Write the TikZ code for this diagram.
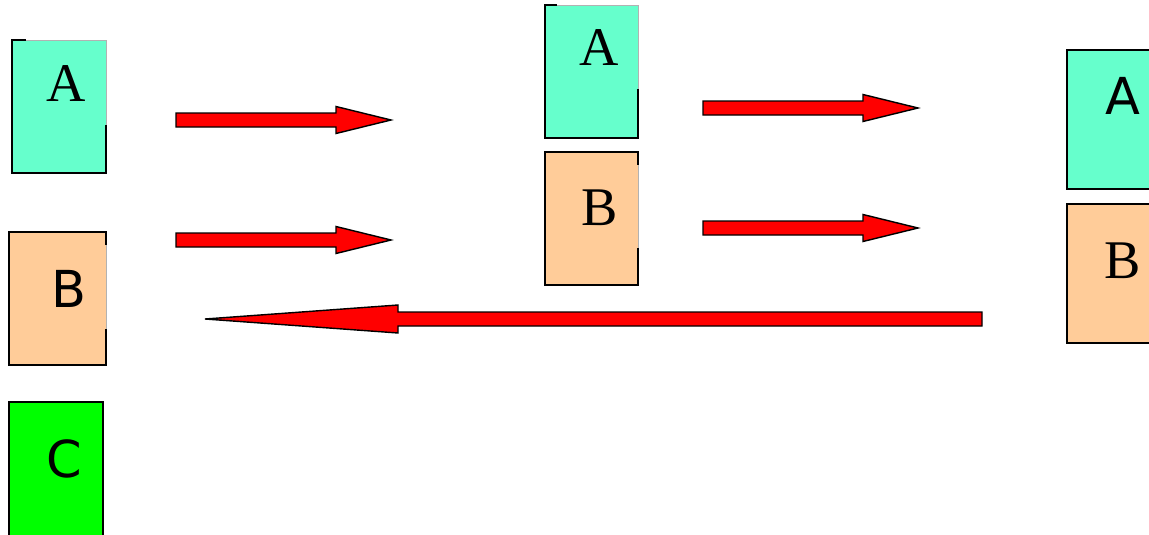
\documentclass[tikz,border=0pt]{standalone}
\usepackage{fontspec}
\usepackage{tikz}
\setmainfont{Liberation Serif}
\newfontfamily\boxsans{DejaVu Sans}
\definecolor{card_aqua}{RGB}{102, 255, 204}
\definecolor{card_peach}{RGB}{255, 204, 153}
\definecolor{card_green}{RGB}{0, 255, 0}
\tikzset{
  card/.style={rectangle, inner sep=0pt, minimum width=1.88cm, minimum height=2.66cm, draw=gray!60, line width=0.4pt},
  edge/.style={black, line width=1.2pt},
  letter/.style={inner sep=0pt, font=\fontsize{31}{31}\selectfont},
  sansletter/.style={inner sep=0pt, font=\boxsans\fontsize{29}{29}\selectfont},
  redarrow/.style={fill=red, draw=black, line width=0.8pt, line join=miter}
}

\begin{document}
\begin{tikzpicture}[x=0.02cm, y=-0.02cm]
\useasboundingbox (0,0) rectangle (1149,534);
% left column
\node[card, fill=card_aqua] (A1) at (59,106.5) {};
\node[card, fill=card_peach, minimum width=1.94cm] (B1) at (57.5,298.5) {};
\node[card, fill=card_green] (C1) at (56,468.5) {};
\draw[edge] (A1.north west) ++(14,0) -- (A1.north west) -- (A1.south west) -- (A1.south east) -- ++(0,-48);
\draw[edge] (B1.north east) ++(0,13) -- (B1.north east) -- (B1.north west) -- (B1.south west) -- (B1.south east) -- ++(0,-36);
\draw[edge] (C1.south east) -- (C1.north east) -- (C1.north west) -- (C1.south west);
\node[letter] (labA1) at (66,84) {A};
\node[sansletter] (labB1) at (69,289) {B};
\node[sansletter] (labC1) at (64.5,459) {C};
% middle column
\node[card, fill=card_aqua, minimum width=1.86cm] (A2) at (591.5,71.5) {};
\node[card, fill=card_peach, minimum width=1.86cm] (B2) at (591.5,218.5) {};
\draw[edge] (A2.north west) ++(12,0) -- (A2.north west) -- (A2.south west) -- (A2.south east) -- ++(0,-49);
\draw[edge] (B2.north east) ++(0,13) -- (B2.north east) -- (B2.north west) -- (B2.south west) -- (B2.south east) -- ++(0,-37);
\node[letter] (labA2) at (599,48) {A};
\node[letter] (labB2) at (600,208) {B};
% right column
\node[card, fill=card_aqua, minimum height=2.78cm, draw=black, line width=1pt] (A3) at (1114,119.5) {};
\node[card, fill=card_peach, minimum height=2.78cm, draw=black, line width=1pt] (B3) at (1114,273.5) {};
\node[sansletter] (labA3) at (1123,96) {A};
\node[letter] (labB3) at (1123,261) {B};
% arrows
\foreach \x/\y in {176/120, 176/240, 703/108, 703/228}
  \draw[redarrow] (\x,\y-7) -- ++(160,0) -- ++(0,-6.5) -- (\x+215,\y) -- (\x+160,\y+13.5) -- ++(0,-6.5) -- (\x,\y+7) -- cycle;
\draw[redarrow] (982,312) -- (398,312) -- (398,305) -- (205,319) -- (398,333) -- (398,326) -- (982,326) -- cycle;
\end{tikzpicture}
\end{document}
